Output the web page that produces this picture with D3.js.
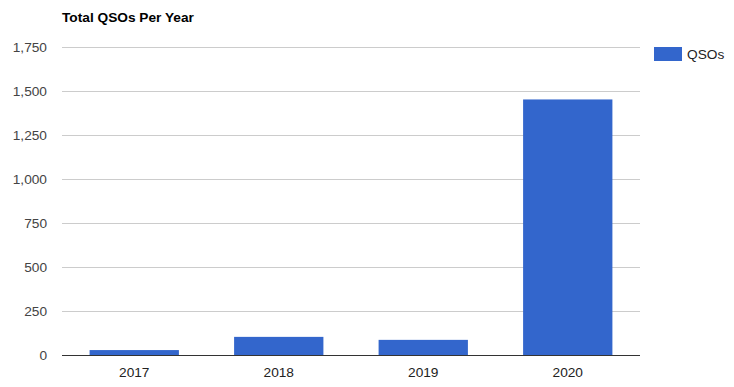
<!DOCTYPE html>
<html><head><meta charset="utf-8">
<script src="https://cdn.jsdelivr.net/npm/d3@7"></script>
<style>body{margin:0;background:#fff}svg{display:block;font-family:Arial,"Liberation Sans",sans-serif}</style>
</head><body><svg id="c" width="734" height="387"></svg>
<script>
const categories = ["2017", "2018", "2019", "2020"];
const qsos = [28, 103, 86, 1452];
const yTicks = [0, 250, 500, 750, 1000, 1250, 1500, 1750];
const seriesName = "QSOs";
const title = "Total QSOs Per Year";

const svg = d3.select("#c");
const L = 62, R = 640, T = 47, B = 355;
const x = d3.scaleBand().domain(categories).range([L, R]).paddingInner(0.382).paddingOuter(0.191);
const y = d3.scaleLinear().domain([0, 1750]).range([B, T]);
const fmt = d3.format(",");

// grid
svg.append("g").selectAll("line").data(yTicks.filter(d => d > 0)).join("line")
  .attr("x1", L).attr("x2", R).attr("y1", d => y(d) + 0.5).attr("y2", d => y(d) + 0.5)
  .attr("stroke", "#cccccc").attr("stroke-width", 1);

// y labels
svg.append("g").selectAll("text").data(yTicks).join("text")
  .attr("x", 47).attr("y", d => y(d) + 5).attr("text-anchor", "end")
  .attr("font-size", 13.7).attr("fill", "#444").text(d => fmt(d));

// bars
svg.append("g").selectAll("rect").data(qsos).join("rect")
  .attr("x", (d, i) => x(categories[i])).attr("width", x.bandwidth())
  .attr("y", d => y(d)).attr("height", d => B - y(d)).attr("fill", "#3366cc");

// baseline
svg.append("line").attr("x1", L).attr("x2", R).attr("y1", B + 0.5).attr("y2", B + 0.5)
  .attr("stroke", "#333").attr("stroke-width", 1);

// x labels
svg.append("g").selectAll("text").data(categories).join("text")
  .attr("x", d => x(d) + x.bandwidth() / 2).attr("y", 377).attr("text-anchor", "middle")
  .attr("font-size", 13.7).attr("fill", "#222").text(d => d);

// title
svg.append("text").attr("x", L).attr("y", 22).attr("font-size", 13.7).attr("font-weight", "bold")
  .attr("fill", "#000").text(title);

// legend
svg.append("rect").attr("x", 654).attr("y", 47).attr("width", 28).attr("height", 14).attr("fill", "#3366cc");
svg.append("text").attr("x", 687).attr("y", 59).attr("font-size", 13.7).attr("fill", "#222").text(seriesName);
</script></body></html>
